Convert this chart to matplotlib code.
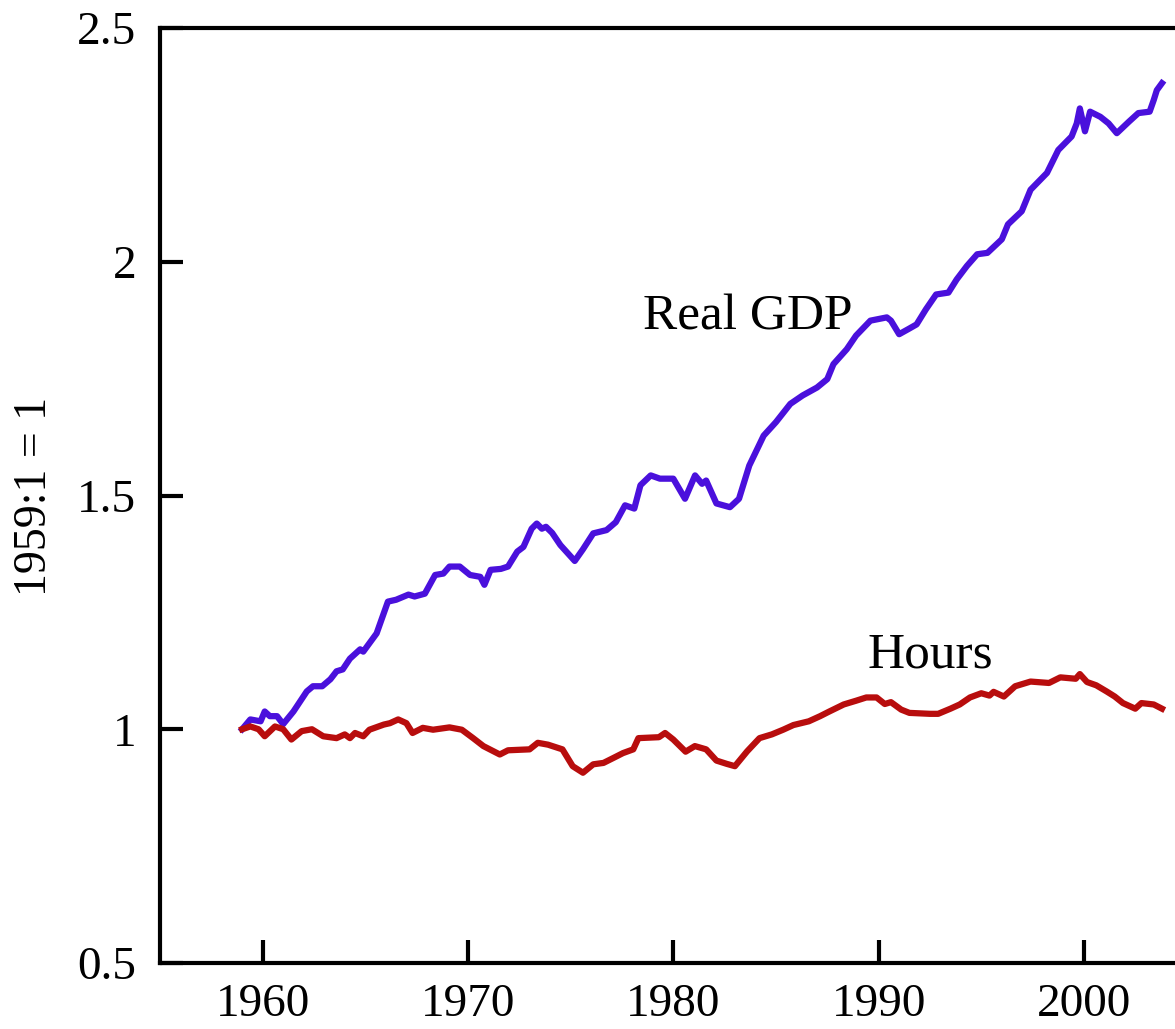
import matplotlib.pyplot as plt

gdp_years = [1959.0, 1959.4, 1959.9, 1960.1, 1960.35, 1960.7, 1961.0, 1961.5, 1962.15, 1962.45,
             1962.9, 1963.3, 1963.6, 1963.9, 1964.25, 1964.75, 1964.9, 1965.55, 1966.1, 1966.5,
             1967.1, 1967.4, 1967.9, 1968.4, 1968.8, 1969.1, 1969.6, 1970.1, 1970.6, 1970.8,
             1971.1, 1971.6, 1971.95, 1972.4, 1972.7, 1973.1, 1973.35, 1973.6, 1973.8, 1974.1,
             1974.5, 1975.2, 1975.6, 1976.1, 1976.75, 1977.2, 1977.65, 1978.1, 1978.4, 1978.9,
             1979.35, 1980.0, 1980.57, 1981.06, 1981.4, 1981.6, 1982.1, 1982.76, 1983.2, 1983.7,
             1984.4, 1985.0, 1985.7, 1986.3, 1987.0, 1987.5, 1987.8, 1988.45, 1988.9, 1989.6,
             1990.4, 1990.6, 1991.0, 1991.45, 1991.85, 1992.3, 1992.8, 1993.4, 1993.8, 1994.3,
             1994.8, 1995.3, 1996.0, 1996.3, 1996.97, 1997.4, 1998.2, 1998.75, 1999.4, 1999.65,
             1999.8, 2000.05, 2000.3, 2000.8, 2001.2, 2001.6, 2002.2, 2002.65, 2003.2, 2003.4,
             2003.55, 2003.8]
gdp = [1.000, 1.021, 1.017, 1.038, 1.028, 1.028, 1.011, 1.038, 1.081, 1.092,
       1.092, 1.107, 1.124, 1.128, 1.151, 1.171, 1.166, 1.205, 1.273, 1.277,
       1.288, 1.284, 1.290, 1.330, 1.333, 1.348, 1.348, 1.330, 1.326, 1.309,
       1.341, 1.343, 1.348, 1.380, 1.390, 1.429, 1.440, 1.429, 1.433, 1.420,
       1.394, 1.360, 1.385, 1.419, 1.426, 1.443, 1.479, 1.472, 1.522, 1.543,
       1.536, 1.536, 1.493, 1.543, 1.525, 1.532, 1.483, 1.475, 1.493, 1.564,
       1.628, 1.657, 1.696, 1.714, 1.731, 1.749, 1.781, 1.813, 1.842, 1.874,
       1.881, 1.874, 1.845, 1.856, 1.866, 1.898, 1.930, 1.934, 1.962, 1.991,
       2.016, 2.019, 2.048, 2.080, 2.108, 2.154, 2.190, 2.239, 2.268, 2.296,
       2.328, 2.279, 2.321, 2.310, 2.296, 2.275, 2.300, 2.318, 2.321, 2.346,
       2.367, 2.382]

hours_years = [1959.0, 1959.4, 1959.8, 1960.1, 1960.6, 1961.0, 1961.4, 1961.9, 1962.4, 1962.95,
               1963.6, 1964.0, 1964.25, 1964.5, 1964.9, 1965.2, 1965.9, 1966.2, 1966.6, 1967.0,
               1967.3, 1967.8, 1968.3, 1969.1, 1969.7, 1970.25, 1970.75, 1971.55, 1971.95, 1973.0,
               1973.4, 1973.9, 1974.6, 1975.1, 1975.6, 1976.1, 1976.6, 1977.1, 1977.55, 1978.05,
               1978.3, 1979.3, 1979.6, 1980.0, 1980.6, 1981.05, 1981.6, 1982.1, 1982.6, 1983.0,
               1983.6, 1984.2, 1984.8, 1985.35, 1985.85, 1986.6, 1987.15, 1987.6, 1988.3, 1988.9,
               1989.4, 1989.9, 1990.3, 1990.6, 1991.1, 1991.5, 1992.5, 1992.9, 1993.5, 1993.95,
               1994.45, 1995.0, 1995.4, 1995.6, 1996.1, 1996.65, 1997.4, 1998.3, 1998.85, 1999.6,
               1999.8, 2000.15, 2000.6, 2001.1, 2001.5, 2001.9, 2002.5, 2002.8, 2003.4, 2003.8]
hours = [1.000, 1.006, 1.000, 0.985, 1.006, 1.000, 0.978, 0.996, 1.000, 0.985,
         0.981, 0.989, 0.981, 0.992, 0.985, 0.999, 1.010, 1.013, 1.021, 1.013,
         0.992, 1.003, 0.999, 1.004, 0.999, 0.981, 0.964, 0.946, 0.955, 0.957,
         0.971, 0.967, 0.957, 0.921, 0.907, 0.925, 0.928, 0.939, 0.949, 0.957,
         0.981, 0.983, 0.992, 0.978, 0.952, 0.964, 0.957, 0.933, 0.926, 0.921,
         0.953, 0.981, 0.989, 0.999, 1.009, 1.017, 1.028, 1.038, 1.053, 1.061,
         1.068, 1.068, 1.054, 1.058, 1.042, 1.035, 1.033, 1.033, 1.044, 1.053,
         1.068, 1.077, 1.072, 1.080, 1.070, 1.092, 1.102, 1.099, 1.111, 1.108,
         1.118, 1.101, 1.094, 1.081, 1.070, 1.056, 1.044, 1.056, 1.053, 1.044]

x_ticks = [1960, 1970, 1980, 1990, 2000]
y_ticks = [0.5, 1, 1.5, 2, 2.5]
y_tick_labels = ['0.5', '1', '1.5', '2', '2.5']

plt.rcParams['font.family'] = ['Liberation Serif', 'DejaVu Serif']

fig = plt.figure(figsize=(11.75, 10.29), dpi=100)
ax = fig.add_axes([160 / 1175, 66 / 1029, 1026.6 / 1175, 935 / 1029])

ax.plot(gdp_years, gdp, color='#4a10dc', linewidth=4.5, solid_joinstyle='round')
ax.plot(hours_years, hours, color='#b80d0d', linewidth=4.5, solid_joinstyle='round')

ax.text(1983.64, 1.855, 'Real GDP', fontsize=37, ha='center', va='baseline')
ax.text(1992.5, 1.132, 'Hours', fontsize=37, ha='center', va='baseline')

ax.set_xlim(1955, 2005)
ax.set_ylim(0.5, 2.5)
ax.set_xticks(x_ticks)
ax.set_xticklabels([str(t) for t in x_ticks])
ax.set_yticks(y_ticks)
ax.set_yticklabels(y_tick_labels)
ax.tick_params(direction='in', length=16.5, width=3, labelsize=34)
ax.tick_params(axis='x', pad=15)
ax.tick_params(axis='y', pad=17)
for side in ['left', 'bottom', 'top', 'right']:
    ax.spines[side].set_linewidth(3)

fig.text(35 / 1175, 1 - 496 / 1029, '1959:1 = 1', fontsize=33, rotation=90,
         ha='center', va='center')

plt.savefig('out.png', dpi=100)
